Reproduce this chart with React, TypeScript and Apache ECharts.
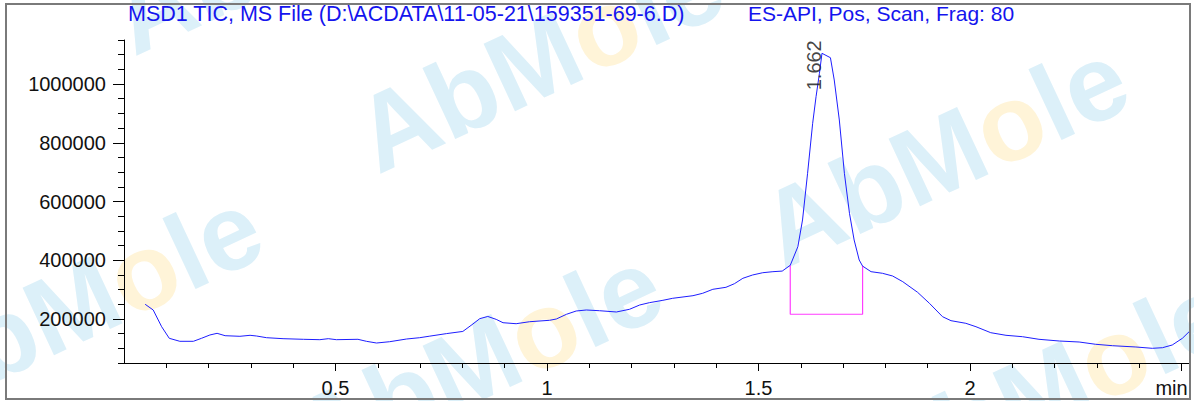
import React, { useEffect, useRef } from 'react';
import * as echarts from 'echarts';

// Retention time (min) and TIC abundance
const times = [
  0.050, 0.069, 0.089, 0.107, 0.132, 0.164, 0.183, 0.203, 0.220, 0.239,
  0.274, 0.298, 0.313, 0.337, 0.376, 0.424, 0.463, 0.483, 0.502, 0.553,
  0.573, 0.597, 0.628, 0.668, 0.699, 0.723, 0.762, 0.801, 0.825, 0.841,
  0.860, 0.880, 0.896, 0.927, 0.959, 1.006, 1.022, 1.046, 1.069, 1.093,
  1.124, 1.164, 1.195, 1.219, 1.242, 1.274, 1.297, 1.345, 1.368, 1.392,
  1.423, 1.443, 1.463, 1.486, 1.510, 1.534, 1.556, 1.575, 1.593, 1.604,
  1.616, 1.628, 1.636, 1.644, 1.650, 1.670, 1.679, 1.691, 1.703, 1.715,
  1.726, 1.738, 1.746, 1.766, 1.793, 1.817, 1.841, 1.876, 1.904, 1.935,
  1.955, 1.990, 2.014, 2.049, 2.085, 2.124, 2.163, 2.211, 2.258, 2.297,
  2.337, 2.392, 2.431, 2.455, 2.478, 2.502, 2.518,
];
const tic = [
  250000, 230500, 173600, 134100, 123900, 123900, 134000, 145400, 151100, 143000,
  140900, 144300, 142000, 136200, 132800, 130700, 129400, 132800, 129400, 130700,
  123900, 118100, 122500, 131700, 136200, 141500, 150000, 157500, 183000, 201000,
  208500, 198500, 187200, 183800, 190600, 195400, 199800, 215900, 227100, 230500,
  228100, 223700, 232900, 247500, 255400, 263500, 270300, 279200, 287400, 301000,
  307800, 320100, 338500, 349700, 357500, 361000, 363000, 382700, 446100, 537000,
  696000, 866300, 957000, 1036600, 1104700, 1089700, 1013800, 877600, 696000, 559800,
  468900, 400800, 380000, 361000, 355500, 346300, 326900, 290800, 253300, 207700,
  194100, 185200, 173600, 153200, 144300, 139600, 130700, 124900, 121500, 113700,
  108900, 104500, 100000, 102100, 111300, 134100, 156600,
];

// Integration baseline of the peak
const integT = [1.575, 1.575, 1.746, 1.746];
const integV = [382700, 216000, 216000, 380000];

const peakLabels = ['1.662'];

const titleLeft = 'MSD1 TIC, MS File (D:\\ACDATA\\11-05-21\\159351-69-6.D)';
const titleRight = 'ES-API, Pos, Scan, Frag: 80';

const yLabelValues = [200000, 400000, 600000, 800000, 1000000];
const xLabelValues = [0.5, 1, 1.5, 2, 2.5];
const xLabelTexts = ['0.5', '1', '1.5', '2', 'min'];

const FONT = '"Liberation Sans", Arial, Helvetica, sans-serif';

const watermarks = [
  { x: 141, y: 72 },
  { x: 385, y: 190 },
  { x: 790, y: 285 },
  { x: -76, y: 434 },
  { x: 324, y: 492 },
  { x: 894, y: 519 },
];

export default function App() {
  const ref = useRef<HTMLDivElement>(null);

  useEffect(() => {
    if (!ref.current) return;
    const chart = echarts.init(ref.current, undefined, { renderer: 'svg' });

    let peakIdx = 0;
    tic.forEach((v, i) => { if (v > tic[peakIdx]) peakIdx = i; });

    const wmGraphics = watermarks.map((w) => ({
      type: 'text',
      x: w.x,
      y: w.y,
      rotation: (25 * Math.PI) / 180,
      silent: true,
      z: -10,
      style: {
        text: 'AbM{o|o}le',
        fontSize: 108,
        fontWeight: 'bold',
        fontFamily: FONT,
        fill: '#dcf0f9',
        verticalAlign: 'bottom',
        align: 'left',
        rich: {
          o: { fontSize: 108, fontWeight: 'bold', fontFamily: FONT, fill: '#fff4d8', color: '#fff4d8' },
        },
      },
    }));

    const borderStyle = { stroke: '#7a7a7a', lineWidth: 2 };
    const frame = [
      { type: 'line', z: 100, silent: true, shape: { x1: 6, y1: 4, x2: 1190, y2: 4 }, style: borderStyle },
      { type: 'line', z: 100, silent: true, shape: { x1: 6, y1: 399, x2: 1190, y2: 399 }, style: borderStyle },
      { type: 'line', z: 100, silent: true, shape: { x1: 6, y1: 3, x2: 6, y2: 400 }, style: borderStyle },
      { type: 'line', z: 100, silent: true, shape: { x1: 1190, y1: 3, x2: 1190, y2: 400 }, style: borderStyle },
    ];

    const option: any = {
      animation: false,
      backgroundColor: '#ffffff',
      title: [
        {
          text: titleLeft,
          left: 128,
          top: 3,
          padding: 0,
          textStyle: { fontSize: 21.5, fontWeight: 'normal', color: '#1414ee', fontFamily: FONT },
        },
        {
          text: titleRight,
          left: 748,
          top: 3,
          padding: 0,
          textStyle: { fontSize: 21, fontWeight: 'normal', color: '#1414ee', fontFamily: FONT },
        },
      ],
      graphic: [...wmGraphics, ...frame],
      grid: { left: 124, right: 4, top: 40, bottom: 38, containLabel: false },
      xAxis: [
        {
          type: 'value',
          min: 0,
          max: 2.52,
          interval: 0.1,
          axisLine: { show: true, lineStyle: { color: '#000', width: 1 } },
          axisTick: { show: true, length: 5, lineStyle: { color: '#000' } },
          splitLine: { show: false },
          axisLabel: {
            margin: 15,
            fontSize: 20,
            color: '#111',
            fontFamily: FONT,
            showMinLabel: false,
            showMaxLabel: false,
            formatter: (v: number) => {
              const i = xLabelValues.findIndex((x) => Math.abs(x - v) < 1e-6);
              if (i < 0) return '';
              return i === xLabelValues.length - 1 ? '{m|' + xLabelTexts[i] + '}' : xLabelTexts[i];
            },
            rich: {
              m: { fontSize: 20, color: '#111', fontFamily: FONT, padding: [0, 20, 0, 0] },
            },
          },
        },
        {
          type: 'value',
          min: 0,
          max: 2.52,
          position: 'bottom',
          axisLine: { show: false },
          axisTick: { show: true, length: 8, customValues: xLabelValues, lineStyle: { color: '#000' } },
          axisLabel: { show: false },
          splitLine: { show: false },
        },
      ],
      yAxis: [
        {
          type: 'value',
          min: 50000,
          max: 1150000,
          interval: 50000,
          axisLine: { show: true, lineStyle: { color: '#000', width: 1 } },
          axisTick: { show: true, length: 6, lineStyle: { color: '#000' } },
          splitLine: { show: false },
          axisLabel: {
            margin: 18,
            fontSize: 20,
            color: '#111',
            fontFamily: FONT,
            formatter: (v: number) => (yLabelValues.indexOf(Math.round(v)) >= 0 ? String(Math.round(v)) : ''),
          },
        },
        {
          type: 'value',
          min: 50000,
          max: 1150000,
          position: 'left',
          axisLine: { show: false },
          axisTick: { show: true, length: 11, customValues: yLabelValues, lineStyle: { color: '#000' } },
          axisLabel: { show: false },
          splitLine: { show: false },
        },
      ],
      series: [
        {
          type: 'line',
          name: 'TIC',
          data: times.map((t, i) => [t, tic[i]]),
          showSymbol: false,
          symbol: 'none',
          lineStyle: { color: '#1e1eff', width: 1 },
          z: 5,
          clip: true,
        },
        {
          type: 'line',
          name: 'baseline',
          data: integT.map((t, i) => [t, integV[i]]),
          showSymbol: false,
          symbol: 'none',
          lineStyle: { color: '#ff3cff', width: 1.2 },
          z: 4,
        },
        {
          type: 'scatter',
          name: 'peak',
          data: [[times[peakIdx], tic[peakIdx]]],
          symbolSize: 1,
          itemStyle: { color: 'rgba(0,0,0,0)' },
          z: 6,
          label: {
            show: true,
            position: 'inside',
            rotate: 90,
            align: 'left',
            verticalAlign: 'bottom',
            offset: [-37, 2],
            formatter: () => peakLabels[0],
            fontSize: 20,
            color: '#111',
            fontFamily: FONT,
          },
        },
      ],
    };

    chart.setOption(option);
    return () => chart.dispose();
  }, []);

  return (
    <>
      <style>{'html,body{margin:0;padding:0;background:#fff;}'}</style>
      <div style={{ position: 'relative', width: 1194, height: 401 }}>
        <div ref={ref} style={{ position: 'absolute', left: 0, top: 0, width: 1194, height: 401 }} />
      </div>
    </>
  );
}
